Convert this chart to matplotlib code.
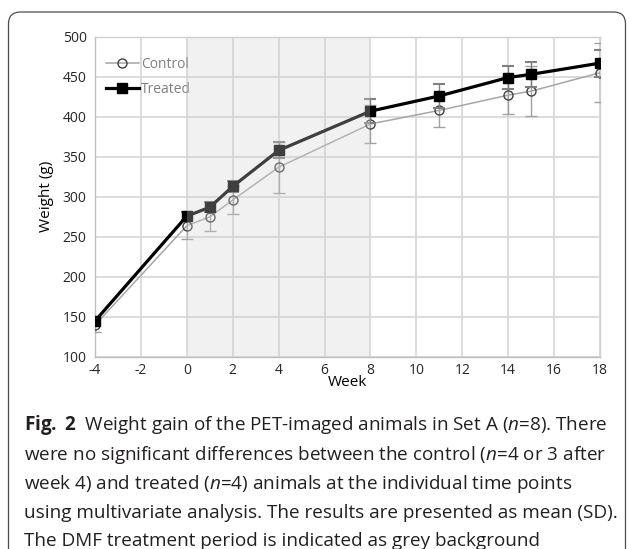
import matplotlib
matplotlib.use("Agg")
import matplotlib.pyplot as plt
from matplotlib.patches import FancyBboxPatch
from matplotlib.lines import Line2D

# ---- data ----
weeks = [-4, 0, 1, 2, 4, 8, 11, 14, 15, 18]
control_mean = [140, 264, 275, 296, 337, 391, 408, 427, 432, 455]
control_sd = [9, 17, 18, 18, 32, 24, 21, 24, 31, 37]
treated_mean = [145, 276, 287, 313, 358, 407, 426, 449, 453, 467]
treated_sd = [5, 5, 6, 7, 10, 15, 15, 14, 16, 17]
treatment_period = [0, 8]
x_ticks = list(range(-4, 19, 2))
y_ticks = list(range(100, 501, 50))
series_labels = ["Control", "Treated"]
caption_lines = [
    r"$\mathbf{Fig.}$ $\mathbf{2}$  Weight gain of the PET-imaged animals in Set A ($\mathit{n}$=8). There",
    r"were no significant differences between the control ($\mathit{n}$=4 or 3 after",
    r"week 4) and treated ($\mathit{n}$=4) animals at the individual time points",
    r"using multivariate analysis. The results are presented as mean (SD).",
    r"The DMF treatment period is indicated as grey background",
]

FONT = "Open Sans"
plt.rcParams["font.family"] = [FONT, "DejaVu Sans"]
plt.rcParams["mathtext.fontset"] = "custom"
plt.rcParams["mathtext.rm"] = FONT
plt.rcParams["mathtext.it"] = FONT + ":italic"
plt.rcParams["mathtext.bf"] = FONT + ":bold"

W, H = 629, 549
fig = plt.figure(figsize=(W / 100, H / 100), dpi=100)
ax = fig.add_axes([95 / W, 1 - 357 / H, 505 / W, 320.3 / H])

ax.set_xlim(-4, 18)
ax.set_ylim(100, 500)
ax.set_xticks(x_ticks)
ax.set_yticks(y_ticks)
ax.set_xticklabels([str(v) for v in x_ticks])
ax.grid(True, color="#d9d9d9", lw=1.3, zorder=0)
ax.set_axisbelow(True)
ax.tick_params(length=0, labelsize=10, colors="#262626")
ax.tick_params(axis="x", pad=4)
ax.tick_params(axis="y", pad=6)
for s in ["top", "right"]:
    ax.spines[s].set_color("#d0d0d0")
    ax.spines[s].set_linewidth(1.0)
for s in ["left", "bottom"]:
    ax.spines[s].set_color("#bfbfbf")
    ax.spines[s].set_linewidth(1.0)

ax.errorbar(weeks, control_mean, yerr=control_sd, color="#a6a6a6", lw=1.1,
            marker="o", ms=6.5, mfc="none", mec="#404040", mew=1.0,
            ecolor="#a0a0a0", elinewidth=1.0, capsize=4, capthick=1.0,
            zorder=3)
ax.errorbar(weeks, treated_mean, yerr=treated_sd, color="black", lw=2.3,
            marker="s", ms=7, mfc="black", mec="black",
            ecolor="#808080", elinewidth=1.0, capsize=4, capthick=1.5,
            zorder=4)

ax.axvspan(treatment_period[0], treatment_period[1], color="#d2d2d2",
           alpha=0.3, lw=0, zorder=6)

handles = [
    Line2D([], [], color="#a6a6a6", lw=1.1, marker="o", ms=6.5, mfc="none",
           mec="#404040", mew=1.0),
    Line2D([], [], color="black", lw=2.3, marker="s", ms=7, mfc="black",
           mec="black"),
]
leg = ax.legend(handles, series_labels, loc="upper left", frameon=False,
                fontsize=10, labelcolor="#808080", handlelength=2.4,
                handletextpad=0.15, borderaxespad=0.0, labelspacing=0.75,
                bbox_to_anchor=(0.01, 0.955))

ax.set_ylabel("Weight (g)", fontsize=11, labelpad=6)
ax.set_xlabel("Week", fontsize=11, labelpad=-2)

# rounded frame around figure
frame = FancyBboxPatch((8.5, -30), 617, H - 12 + 30,
                       boxstyle="round,pad=0,rounding_size=12",
                       transform=None, fill=False, ec="#4d4d4d", lw=0.9)
fig.patches.append(frame)

ys = [425, 455, 484, 513, 541]
for y, line in zip(ys, caption_lines):
    fig.text(24 / W, 1 - y / H, line, fontsize=13.6, va="center",
             ha="left", color="#231f20")

fig.savefig("out.png", dpi=100)
